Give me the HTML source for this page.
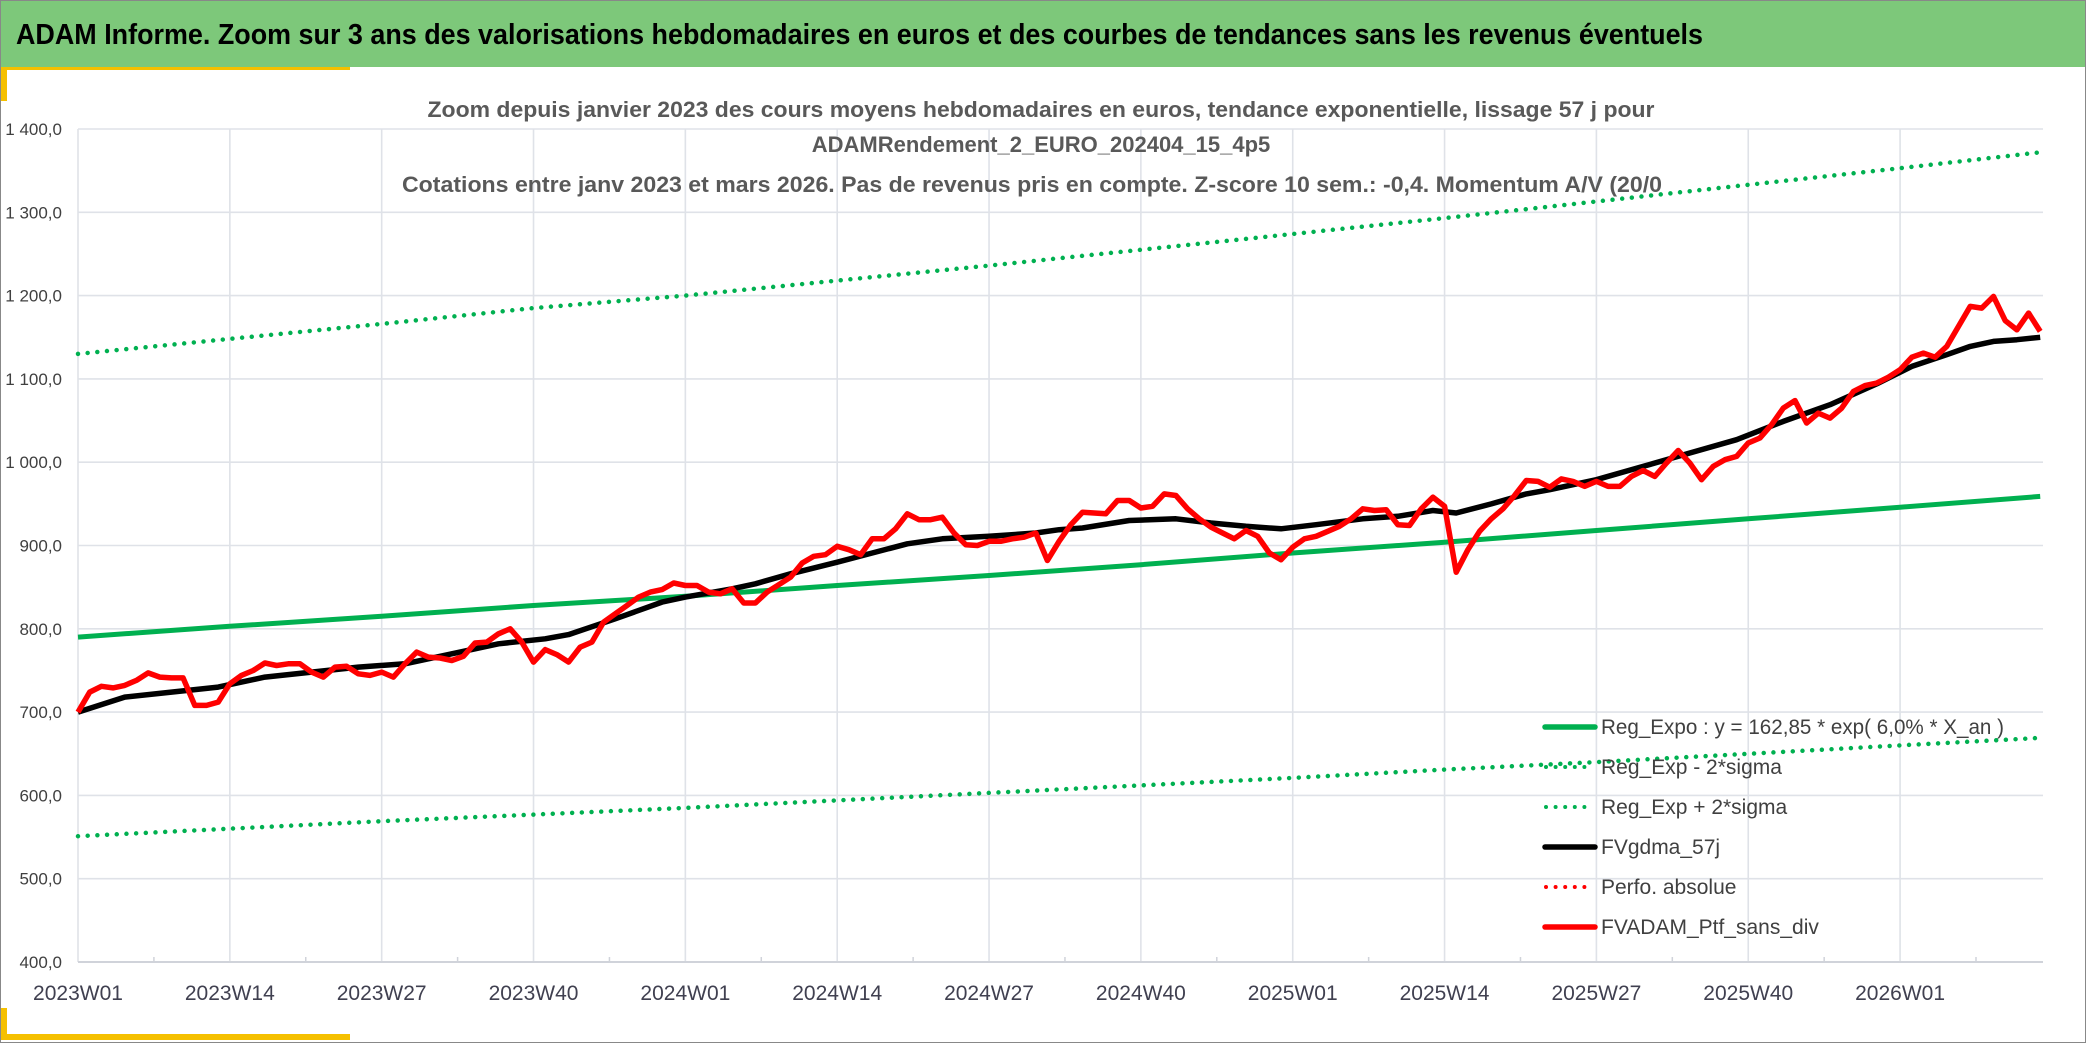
<!DOCTYPE html>
<html><head><meta charset="utf-8"><style>
html,body{margin:0;padding:0;background:#fff;}
body{width:2086px;height:1043px;overflow:hidden;position:relative;}
svg{display:block;}
text{font-family:"Liberation Sans",sans-serif;}
</style></head><body>
<svg id="chart" width="2086" height="1043" viewBox="0 0 2086 1043">
<rect x="0" y="0" width="2086" height="1043" fill="#fff"/>
<rect x="0" y="0" width="2086" height="67" fill="#7dc87a"/>
<text x="16" y="44" font-size="29" font-weight="bold" fill="#000" textLength="1687" lengthAdjust="spacingAndGlyphs">ADAM Informe. Zoom sur 3 ans des valorisations hebdomadaires en euros et des courbes de tendances sans les revenus éventuels</text>
<rect x="7" y="67" width="343" height="3" fill="#f5c000"/>
<rect x="0" y="67" width="7" height="34" fill="#f5c000"/>
<rect x="0" y="1008" width="7" height="32" fill="#f5c000"/>
<rect x="0" y="1034" width="350" height="6" fill="#f5c000"/>
<rect x="0.5" y="0.5" width="2085" height="1042" fill="none" stroke="#888" stroke-width="1"/>
<g id="grid"></g>
<g id="yaxis"></g>
<g id="xaxis"></g>
<g id="series"></g>
<g font-weight="bold" fill="#595959" font-size="22" text-anchor="middle">
<text x="1041" y="117" textLength="1227" lengthAdjust="spacingAndGlyphs">Zoom depuis janvier 2023 des cours moyens hebdomadaires en euros, tendance exponentielle, lissage 57 j pour</text>
<text x="1041" y="152">ADAMRendement_2_EURO_202404_15_4p5</text>
<text x="1032" y="192" textLength="1260" lengthAdjust="spacingAndGlyphs">Cotations entre janv 2023 et mars 2026. Pas de revenus pris en compte. Z-score 10 sem.: -0,4. Momentum A/V (20/0</text>
</g>
<g id="legend"></g>
</svg>
<script>
const weekLabels = ["2023W01","2023W14","2023W27","2023W40","2024W01","2024W14","2024W27","2024W40","2025W01","2025W14","2025W27","2025W40","2026W01"];
const yTicks = [400,500,600,700,800,900,1000,1100,1200,1300,1400];
const yTickLabels = ["400,0","500,0","600,0","700,0","800,0","900,0","1 000,0","1 100,0","1 200,0","1 300,0","1 400,0"];
const redVals = [700,724,731,729,732,738,747,742,741,741,708,708,712,734,744,750,759,756,758,758,748,742,754,755,746,744,748,742,758,772,766,765,762,767,783,784,794,800,784,760,775,769,760,778,784,808,818,828,838,844,847,855,852,852,844,842,848,831,831,844,853,862,879,887,889,899,895,889,908,908,920,938,931,931,934,915,901,900,905,905,908,910,915,882,905,925,940,939,938,954,954,945,947,962,960,944,932,922,915,908,918,911,891,883,898,908,911,917,923,932,944,942,943,925,924,944,958,947,868,895,917,932,944,960,978,977,970,980,977,971,977,971,971,983,990,983,999,1014,999,979,995,1003,1007,1023,1029,1045,1065,1074,1047,1059,1053,1065,1085,1092,1095,1102,1111,1126,1131,1126,1139,1163,1187,1185,1199,1170,1159,1179,1157];
const blackWeeks = [0,4,8,12,16,20,24,28,32,36,40,42,46,50,52,56,58,61,65,68,71,74,78,82,84,86,90,94,97,100,103,106,110,113,116,118,121,124,126,130,134,138,142,146,150,154,157,160,162,164,166,168];
const blackVals = [700,718,724,730,742,748,754,758,770,782,788,793,812,832,838,848,854,866,880,891,902,908,911,915,919,921,930,932,927,923,920,925,932,935,942,939,950,962,967,979,995,1011,1027,1049,1069,1094,1115,1129,1139,1145,1147,1150];
const trendWeeks = [0,13,26,39,52,65,78,91,104,117,130,143,156,168];
const regVals = [790,803,815,828,839,852,864,877,891,904,918,932,946,959];
const upperVals = [1130,1148,1166,1185,1200,1218,1236,1255,1274,1293,1313,1333,1353,1372];
const lowerVals = [551,560,569,577,585,594,603,612,621,631,640,650,660,669];

const NS = "http://www.w3.org/2000/svg";
const X0 = 78, PXW = 11.68, Y400 = 962, PXU = 0.833, XR = 2043;
function xs(w){return X0 + w*PXW;}
function ys(v){return Y400 - (v-400)*PXU;}
function mk(tag, attrs, parent){const e=document.createElementNS(NS,tag);for(const k in attrs)e.setAttribute(k,attrs[k]);parent.appendChild(e);return e;}
const grid=document.getElementById('grid'), yaxis=document.getElementById('yaxis'), xaxis=document.getElementById('xaxis'), series=document.getElementById('series'), legend=document.getElementById('legend');

yTicks.forEach((v,i)=>{
  const l=mk('line',{x1:X0,x2:XR,y1:ys(v),y2:ys(v),stroke:'#dfe2e8','stroke-width':1.6},grid);
  
  
  const t=mk('text',{x:62,y:ys(v)+6,'font-size':17,fill:'#404040','text-anchor':'end'},yaxis);
  t.textContent=yTickLabels[i];
  
  
});
weekLabels.forEach((lab,i)=>{
  const w=i*13;
  const l=mk('line',{x1:xs(w),x2:xs(w),y1:ys(1400),y2:ys(400),stroke:'#dfe2e8','stroke-width':1.6},grid);
  
  
  const m=mk('line',{x1:xs(w+6.5),x2:xs(w+6.5),y1:ys(400)-5,y2:ys(400),stroke:'#d0d3da','stroke-width':1.5},xaxis);
  
  
  const t=mk('text',{x:xs(w),y:1000,'font-size':21,fill:'#404050','text-anchor':'middle'},xaxis);
  t.textContent=lab;
  
  
});
const base=mk('line',{x1:X0,x2:XR,y1:ys(400),y2:ys(400),stroke:'#d0d3da','stroke-width':2},xaxis);



function path(weeks, vals){return vals.map((v,i)=>(i?'L':'M')+xs(weeks[i]).toFixed(1)+' '+ys(v).toFixed(1)).join(' ');}
const redWeeks = redVals.map((v,i)=>i);
const dotted={fill:'none',stroke:'#00b050','stroke-width':4.5,'stroke-linecap':'round','stroke-dasharray':'0 9.7'};
const pu=mk('path',Object.assign({d:path(trendWeeks,upperVals)},dotted),series);


const pl=mk('path',Object.assign({d:path(trendWeeks,lowerVals)},dotted),series);


const pg=mk('path',{d:path(trendWeeks,regVals),fill:'none',stroke:'#00b050','stroke-width':5,'stroke-linejoin':'round'},series);


const pb=mk('path',{d:path(blackWeeks,blackVals),fill:'none',stroke:'#000','stroke-width':5.5,'stroke-linejoin':'round'},series);


const pr=mk('path',{d:path(redWeeks,redVals),fill:'none',stroke:'#ff0000','stroke-width':5.5,'stroke-linejoin':'round'},series);



const legItems=[
 ["Reg_Expo : y = 162,85 * exp( 6,0% *  X_an )","#00b050",false,"legend-reg-expo",403],
 ["Reg_Exp - 2*sigma","#00b050",true,"legend-reg-minus",0],
 ["Reg_Exp + 2*sigma","#00b050",true,"legend-reg-plus",0],
 ["FVgdma_57j","#000",false,"legend-fvgdma",0],
 ["Perfo. absolue","#ff0000",true,"legend-perfo-absolue",0],
 ["FVADAM_Ptf_sans_div","#ff0000",false,"legend-fvadam",0]];
legItems.forEach((it,i)=>{
  const y=727+i*40;
  const g=mk('g',{},legend);
  
  
  if(it[2]) mk('line',{x1:1546,x2:1594,y1:y,y2:y,stroke:it[1],'stroke-width':4,'stroke-linecap':'round','stroke-dasharray':'0 9.6'},g);
  else mk('line',{x1:1545,x2:1595,y1:y,y2:y,stroke:it[1],'stroke-width':5.5,'stroke-linecap':'round'},g);
  const a={x:1601,y:y+7,'font-size':21,fill:'#404040'};
  if(it[4]){a.textLength=it[4];a.lengthAdjust='spacingAndGlyphs';}
  const t=mk('text',a,g);
  t.textContent=it[0];
});
</script>
</body></html>
